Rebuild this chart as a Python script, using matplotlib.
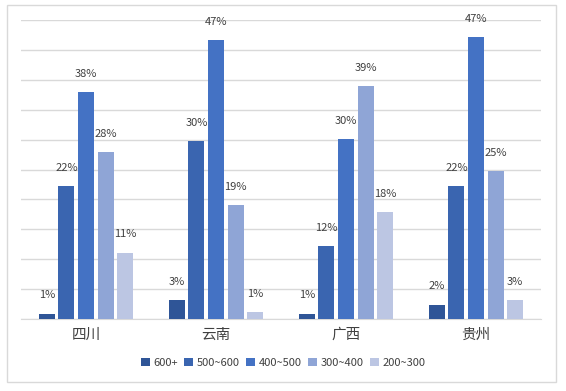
import numpy as np
import matplotlib.pyplot as plt
from matplotlib.patches import Rectangle

plt.rcParams['font.family'] = ['Noto Sans CJK SC', 'DejaVu Sans']

# 数据
provinces = ['四川', '云南', '广西', '贵州']
series_names = ['600+', '500~600', '400~500', '300~400', '200~300']
share_600 = [0.9, 3.2, 0.9, 2.4]
share_500_600 = [22.2, 29.7, 12.2, 22.2]
share_400_500 = [37.9, 46.7, 30.1, 47.2]
share_300_400 = [27.9, 19.1, 38.9, 24.7]
share_200_300 = [11.1, 1.1, 17.9, 3.1]
colors = ['#2F5597', '#3A65B0', '#4472C4', '#8FA5D6', '#BCC6E3']

all_series = [share_600, share_500_600, share_400_500, share_300_400, share_200_300]

fig = plt.figure(figsize=(5.66, 3.91), dpi=100)
ax = fig.add_axes([21 / 566, 1 - 319 / 391, 520 / 566, 299 / 391])

# 外框
fig.patches.append(Rectangle((7 / 566, 1 - 382 / 391), 549 / 566, 377 / 391,
                             transform=fig.transFigure, fill=False,
                             edgecolor='#D9D9D9', linewidth=1))

x = np.arange(len(provinces))
step = 0.151
width = 0.125
for i, (name, vals) in enumerate(zip(series_names, all_series)):
    pos = x + (i - 2) * step
    ax.bar(pos, vals, width=width, color=colors[i], label=name, zorder=3)
    for p, v in zip(pos, vals):
        ax.text(p, v + 2.2, f"{v:.0f}%", ha='center', va='bottom',
                fontsize=8, color='#404040', zorder=4)

ax.set_xlim(-0.5, 3.5)
ax.set_ylim(0, 50)
ax.set_yticks(np.arange(0, 51, 5))
ax.yaxis.grid(True, color='#D9D9D9', linewidth=1)
ax.set_axisbelow(True)
ax.tick_params(axis='y', left=False, labelleft=False)
ax.tick_params(axis='x', bottom=False, labelsize=10.5, labelcolor='#404040', pad=3)
ax.set_xticks(x)
ax.set_xticklabels(provinces)
for s in ['top', 'right', 'left']:
    ax.spines[s].set_visible(False)
ax.spines['bottom'].set_color('#D9D9D9')

fig.legend(loc='center', bbox_to_anchor=(283 / 566, 1 - 363 / 391), ncol=5,
           frameon=False, fontsize=8, handlelength=0.8, handleheight=0.8,
           handletextpad=0.3, columnspacing=0.6, labelcolor='#404040')

fig.savefig('out.png', dpi=100)
